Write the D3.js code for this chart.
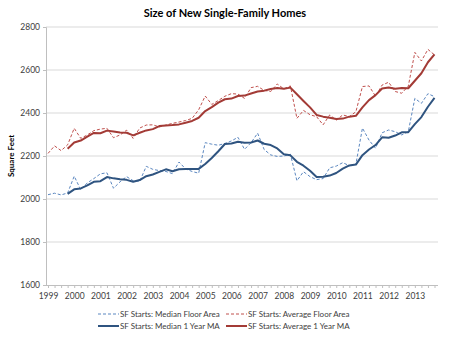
<!DOCTYPE html>
<html><head><meta charset="utf-8">
<script src="https://cdn.jsdelivr.net/npm/d3@7/dist/d3.min.js"></script>
<style>body{margin:0;background:#fff;} text{font-family:Lato, "Open Sans", sans-serif;}</style>
</head><body><svg id="c" width="450" height="337"></svg>
<script>
const years = ["1999","2000","2001","2002","2003","2004","2005","2006","2007","2008","2009","2010","2011","2012","2013"];
const yTicks = [1600,1800,2000,2200,2400,2600,2800];
// quarterly, 1999 Q1 .. 2013 Q4
const medianFloor = [2020,2027,2019,2028,2106,2043,2075,2095,2117,2122,2050,2080,2104,2085,2082,2152,2138,2132,2128,2118,
  2172,2140,2128,2120,2262,2255,2250,2258,2270,2287,2231,2262,2306,2230,2205,2198,2200,2208,2085,2127,
  2104,2090,2095,2145,2153,2169,2155,2162,2330,2274,2236,2308,2321,2313,2298,2313,2468,2445,2490,2476];
const averageFloor = [2212,2247,2225,2252,2329,2282,2298,2318,2325,2329,2285,2298,2320,2282,2330,2344,2345,2335,2344,2352,
  2358,2365,2375,2415,2479,2440,2458,2478,2490,2488,2468,2518,2524,2505,2500,2535,2512,2526,2375,2412,
  2392,2383,2345,2391,2367,2391,2383,2406,2523,2526,2478,2530,2543,2500,2492,2525,2682,2642,2696,2670];
// 1 year moving averages (start at 1999 Q4)
const medianMA = [null,null,null,2024,2045,2049,2063,2080,2083,2102,2096,2092,2089,2080,2088,2106,2114,2126,2138,2129,
  2138,2140,2140,2140,2163,2191,2222,2256,2258,2266,2262,2263,2272,2257,2251,2235,2208,2203,2173,2155,
  2131,2102,2104,2109,2121,2141,2156,2160,2204,2230,2251,2287,2285,2295,2310,2311,2348,2381,2429,2470];
const averageMA = [null,null,null,2234,2263,2272,2290,2307,2306,2318,2314,2309,2308,2296,2308,2319,2325,2339,2342,2344,
  2347,2355,2363,2378,2409,2427,2448,2464,2467,2479,2481,2491,2500,2504,2512,2516,2513,2518,2487,2456,
  2426,2391,2383,2378,2372,2374,2383,2387,2426,2460,2483,2514,2519,2513,2516,2515,2550,2585,2636,2673];

const svg = d3.select("#c");
const L = 46, R = 438, T = 27, B = 285;
const x = d3.scaleLinear().domain([0, 59]).range([48, 434.5]);
const y = d3.scaleLinear().domain([1600, 2800]).range([B, T]);

// gridlines
svg.append("g").selectAll("line").data(yTicks.slice(1)).join("line")
  .attr("x1", L).attr("x2", R).attr("y1", d => y(d)).attr("y2", d => y(d))
  .attr("stroke", "#d9d9d9").attr("stroke-width", 1);

// y axis
const yAxis = svg.append("g").attr("transform", `translate(${L},0)`)
  .call(d3.axisLeft(y).tickValues(yTicks).tickSize(3).tickPadding(3).tickFormat(d3.format("d")));
yAxis.select(".domain").attr("stroke", "#bfbfbf");
yAxis.selectAll(".tick line").attr("stroke", "#bfbfbf");
yAxis.selectAll(".tick text").attr("fill", "#404040").style("font-size", "8.5px");

// x axis with quarterly ticks
const qIdx = d3.range(0, 60);
const xAxis = svg.append("g").attr("transform", `translate(0,${B})`)
  .call(d3.axisBottom(x).tickValues(qIdx).tickSize(3).tickPadding(5)
    .tickFormat(i => i % 4 === 0 ? years[i / 4] : ""));
xAxis.select(".domain").attr("d", `M${L},0.5H${R}`).attr("stroke", "#bfbfbf");
xAxis.selectAll(".tick line").attr("stroke", "#bfbfbf");
xAxis.selectAll(".tick text").attr("fill", "#404040").style("font-size", "8.5px");

const line = d3.line().defined(d => d != null).x((d, i) => x(i)).y(d => y(d));
const series = [
  {data: medianFloor, color: "#5b87c0", w: 1, dash: "3,2"},
  {data: averageFloor, color: "#c0504d", w: 1, dash: "3,2"},
  {data: medianMA, color: "#2f5480", w: 2, dash: null},
  {data: averageMA, color: "#a33b36", w: 2, dash: null}
];
series.forEach(s => {
  svg.append("path").attr("d", line(s.data)).attr("fill", "none")
    .attr("stroke", s.color).attr("stroke-width", s.w)
    .attr("stroke-dasharray", s.dash).attr("stroke-linejoin", "round");
});

// title
svg.append("text").attr("x", 225).attr("y", 17).attr("text-anchor", "middle")
  .style("font-size", "11px").style("font-weight", "bold").attr("fill", "#000")
  .text("Size of New Single-Family Homes");
// y title
svg.append("text").attr("transform", "translate(14,156) rotate(-90)").attr("text-anchor", "middle")
  .style("font-size", "8px").style("font-weight", "bold").attr("fill", "#000").text("Square Feet");

// legend
const legend = [
  {label: "SF Starts: Median Floor Area", s: series[0], lx: 98, ly: 314},
  {label: "SF Starts: Average Floor Area", s: series[1], lx: 226, ly: 314},
  {label: "SF Starts: Median 1 Year MA", s: series[2], lx: 98, ly: 326},
  {label: "SF Starts: Average 1 Year MA", s: series[3], lx: 226, ly: 326}
];
const lg = svg.append("g").selectAll("g").data(legend).join("g");
lg.append("line").attr("x1", d => d.lx).attr("x2", d => d.lx + 21).attr("y1", d => d.ly).attr("y2", d => d.ly)
  .attr("stroke", d => d.s.color).attr("stroke-width", d => d.s.w).attr("stroke-dasharray", d => d.s.dash);
lg.append("text").attr("x", d => d.lx + 22).attr("y", d => d.ly + 3)
  .style("font-size", "8px").attr("fill", "#404040").text(d => d.label);
</script></body></html>
